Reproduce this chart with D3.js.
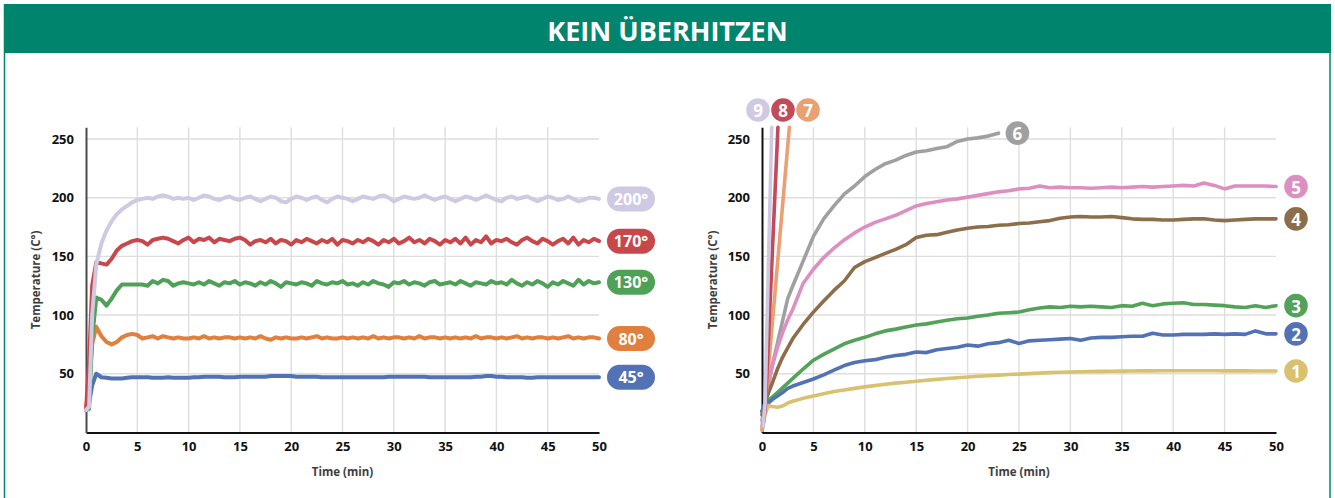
<!DOCTYPE html>
<html>
<head>
<meta charset="utf-8">
<script src="https://cdn.jsdelivr.net/npm/d3@7"></script>
<style>
  body { margin: 0; background: #fff; }
  svg { display: block; }
  text { font-family: "Open Sans", "Noto Sans", sans-serif; }
</style>
</head>
<body>
<svg id="chart" width="1335" height="498"></svg>
<script>
// ---------- data ----------
const title = "KEIN ÜBERHITZEN";
const xTicks = [0, 5, 10, 15, 20, 25, 30, 35, 40, 45, 50];
const yTicks = [50, 100, 150, 200, 250];

// Left panel: regulated plate temperatures (minutes)
const leftTime = [
  0, 0.3, 0.6,
  1, 1.5, 2, 2.5, 3, 3.5, 4, 4.5, 5, 5.5,
  6, 6.5, 7, 7.5, 8, 8.5, 9, 9.5, 10, 10.5,
  11, 11.5, 12, 12.5, 13, 13.5, 14, 14.5, 15, 15.5,
  16, 16.5, 17, 17.5, 18, 18.5, 19, 19.5, 20, 20.5,
  21, 21.5, 22, 22.5, 23, 23.5, 24, 24.5, 25, 25.5,
  26, 26.5, 27, 27.5, 28, 28.5, 29, 29.5, 30, 30.5,
  31, 31.5, 32, 32.5, 33, 33.5, 34, 34.5, 35, 35.5,
  36, 36.5, 37, 37.5, 38, 38.5, 39, 39.5, 40, 40.5,
  41, 41.5, 42, 42.5, 43, 43.5, 44, 44.5, 45, 45.5,
  46, 46.5, 47, 47.5, 48, 48.5, 49, 49.5, 50
];
const level45 = [
  19, 25, 40,
  50, 47, 46.5, 46, 46, 46, 46.5, 47, 47, 47,
  47, 46.5, 46.5, 46.5, 47, 46.5, 46.5, 46.5, 46.5, 47,
  47, 47.5, 47.5, 47.5, 47.5, 47, 47, 47, 47.5, 47.5,
  47.5, 47.5, 47.5, 47.5, 48, 48, 48, 48, 48, 47.5,
  47.5, 47.5, 47.5, 47.5, 47, 47, 47, 47, 47, 47,
  47, 47, 47, 47, 47, 47, 47, 47.5, 47.5, 47.5,
  47.5, 47.5, 47.5, 47.5, 47.5, 47, 47, 47, 47, 47,
  47, 47, 47, 47, 47.5, 47.5, 48, 48, 47.5, 47.5,
  47, 47, 47, 47, 46.5, 46.5, 47, 47, 47, 47,
  47, 47, 47, 47, 47, 47, 47, 47, 47
];
const level80 = [
  19, 40, 75,
  90, 82, 77, 75, 77, 81, 83, 84, 83, 80,
  81, 82, 80, 82, 81, 80, 81, 80, 80, 81,
  80, 82, 80, 81, 80, 81, 81, 80, 81, 80,
  81, 80, 82, 80, 79, 81, 80, 81, 80, 80,
  81, 80, 81, 82, 80, 81, 80, 80, 81, 80,
  81, 80, 81, 80, 82, 80, 81, 80, 81, 81,
  80, 81, 80, 82, 80, 81, 81, 80, 81, 80,
  81, 80, 81, 80, 82, 80, 81, 81, 80, 81,
  80, 81, 82, 80, 81, 80, 81, 81, 80, 81,
  80, 81, 82, 80, 81, 80, 81, 81, 80
];
const level130 = [
  19, 20, 80,
  115, 113, 108, 114, 121, 126, 126, 126, 126, 126,
  125, 129, 127, 130, 129, 125, 127, 128, 127, 126,
  128, 126, 129, 127, 125, 128, 127, 129, 126, 128,
  127, 125, 128, 126, 129, 127, 124, 128, 127, 126,
  128, 127, 125, 129, 127, 126, 128, 127, 129, 126,
  127, 125, 128, 126, 129, 127, 126, 124, 128, 127,
  129, 126, 128, 127, 125, 128, 129, 126, 127, 128,
  126, 129, 127, 125, 128, 127, 126, 129, 127, 128,
  126, 130, 127, 125, 128, 126, 129, 127, 124, 128,
  126, 129, 127, 125, 130, 126, 129, 127, 128
];
const level170 = [
  19, 60, 125,
  145, 144, 143, 148, 155, 159, 161, 163, 164, 163,
  160, 164, 165, 166, 165, 163, 161, 164, 166, 162,
  165, 164, 166, 162, 165, 164, 163, 165, 166, 164,
  160, 163, 164, 162, 165, 161, 164, 163, 160, 164,
  162, 165, 163, 161, 164, 162, 165, 160, 164, 163,
  161, 164, 162, 165, 163, 160, 164, 162, 165, 161,
  163, 166, 162, 164, 161, 165, 163, 160, 164, 162,
  165, 161, 166, 160, 164, 162, 167, 161, 164, 163,
  165, 162, 160, 164, 166, 163, 161, 165, 163, 160,
  163, 165, 161, 166, 160, 164, 162, 165, 163
];
const level200 = [
  19, 22, 100,
  143, 161, 172, 180, 186, 190, 193, 196, 198, 199,
  200, 199, 201, 202, 201, 199, 200, 199, 200, 198,
  200, 202, 201, 199, 198, 200, 201, 199, 198, 200,
  201, 199, 197, 199, 201, 200, 197, 196, 199, 201,
  200, 198, 200, 201, 198, 196, 199, 201, 200, 199,
  197, 199, 201, 200, 199, 201, 202, 200, 197, 199,
  201, 200, 199, 200, 202, 200, 198, 200, 201, 199,
  197, 199, 201, 200, 198, 200, 202, 200, 198, 197,
  200, 201, 199, 200, 201, 199, 197, 199, 201, 200,
  198, 199, 201, 199, 197, 198, 200, 200, 199
];
const leftLabels = ["45°", "80°", "130°", "170°", "200°"];

// Right panel: unregulated burners (minutes)
const rightTime = [
  0, 0.3, 0.6, 1, 1.5, 2, 2.5,
  3, 4, 5, 6, 7, 8, 9, 10, 11, 12,
  13, 14, 15, 16, 17, 18, 19, 20, 21, 22,
  23, 24, 25, 26, 27, 28, 29, 30, 31, 32,
  33, 34, 35, 36, 37, 38, 39, 40, 41, 42,
  43, 44, 45, 46, 47, 48, 49, 50
];
const burner1 = [
  2, 15, 23, 22, 21.5, 22.5, 25,
  26.5, 29, 31, 33, 34.8, 36.2, 37.5, 38.8, 40, 41,
  42, 42.8, 43.6, 44.4, 45.2, 45.9, 46.6, 47.2, 47.8, 48.3,
  48.8, 49.3, 49.7, 50.1, 50.5, 50.9, 51.2, 51.5, 51.7, 51.9,
  52, 52.1, 52.2, 52.3, 52.4, 52.4, 52.5, 52.5, 52.5, 52.5,
  52.5, 52.5, 52.4, 52.4, 52.4, 52.3, 52.3, 52.3
];
const burner2 = [
  18, 24, 25, 28, 31, 34, 37.5,
  39.5, 42.5, 45.5, 49, 53, 57, 59.5, 61, 62, 64,
  65.5, 66.5, 68.5, 68, 70.5, 71.5, 72.5, 74.5, 73.5, 75.5,
  76.5, 78.5, 75.8, 78, 78.5, 79, 79.5, 80, 78.5, 80.5,
  81, 81, 81.5, 82, 82, 84.5, 83, 83, 83.5, 83.5,
  83.5, 84, 83.5, 84, 83.5, 86.5, 84, 84
];
const burner3 = [
  18, 25, 27, 30, 34, 38, 42,
  46, 54, 61.5, 66.5, 71, 75.5, 78.5, 81, 84, 86.5,
  88, 89.8, 91.5, 92.5, 94, 95.5, 96.8, 97.5, 99, 100,
  101.5, 102, 102.6, 104.5, 106, 107, 106.5, 107.5, 107, 107.5,
  107, 106.5, 108, 107.5, 110, 108, 109.5, 110, 110.5, 109,
  109, 108.5, 108, 107, 106.5, 108, 106.5, 108
];
const burner4 = [
  15, 25, 33, 42, 54, 64, 72,
  80, 92, 102.5, 112, 121, 129, 140.5, 145.5, 149, 152.5,
  156, 160, 166, 168, 168.5, 170.5, 172.5, 174, 175, 175.5,
  176.5, 177, 178, 178.5, 179.5, 180.5, 182.5, 183.5, 184, 183.5,
  183.5, 184, 183, 182, 181.5, 181.5, 181, 181, 181.5, 182,
  182, 181, 180.5, 181, 181.5, 182, 182, 182
];
const burner5 = [
  5, 22, 40, 57, 72, 85, 96,
  105, 127, 139, 149, 157, 164, 170, 175, 179, 182,
  185, 189, 193, 195, 196.5, 198, 199, 200.5, 202, 203.5,
  205, 206, 207.5, 208, 210, 208.5, 209, 208.5, 208.5, 208,
  208.5, 209, 208.5, 209, 209.5, 209, 209.5, 210, 210.5, 210,
  212.5, 210.5, 207.5, 210, 210, 210, 210, 209.5
];
const burner6 = [
  10, 25, 40, 57, 76, 95, 114,
  125, 146, 167, 182, 193, 203, 210, 218, 224, 229,
  232, 236, 239, 240, 242, 243.5, 248, 250, 251, 252.5,
  255
];
const burner7Time = [0, 0.3, 2.66];
const burner7 = [2, 22, 260];
const burner8Time = [0.1, 0.35, 1.55];
const burner8 = [5, 25, 260];
const burner9Time = [0.1, 0.3, 0.95];
const burner9 = [5, 25, 260];
const rightLabels = ["1", "2", "3", "4", "5", "6", "7", "8", "9"];

// ---------- styles ----------
const leftColors = ["#5272b5", "#e07f3e", "#50a158", "#c8474b", "#d0c9e3"];
const rightColors = ["#d9c170", "#5272b5", "#52a25a", "#8e6d4b", "#de8fc1",
                     "#a0a0a0", "#e9a072", "#c24b5a", "#d1c9e2"];

// ---------- layout ----------
const svg = d3.select("#chart");
const W = 1335, H = 498;
const green = "#01846d";

svg.append("rect").attr("x", 4).attr("y", 4).attr("width", W - 8).attr("height", 49).attr("fill", green);
svg.append("line").attr("x1", 4.5).attr("x2", 4.5).attr("y1", 4).attr("y2", H).attr("stroke", green).attr("stroke-width", 1.5);
svg.append("line").attr("x1", W - 5).attr("x2", W - 5).attr("y1", 4).attr("y2", H).attr("stroke", green).attr("stroke-width", 1.5);
svg.append("text").attr("x", W / 2).attr("y", 30).attr("text-anchor", "middle")
  .attr("dominant-baseline", "central")
  .attr("fill", "#fff").attr("font-size", 27).attr("font-weight", 700).text(title);

const y = d3.scaleLinear().domain([0, 260]).range([432.4, 127.3]);

function panel(x0, x1, axisColor, labelX) {
  const x = d3.scaleLinear().domain([0, 50]).range([x0, x1]);
  const g = svg.append("g");
  // grid
  g.selectAll("line.hg").data(yTicks).join("line")
    .attr("x1", x(0)).attr("x2", x(50)).attr("y1", d => y(d)).attr("y2", d => y(d))
    .attr("stroke", "#dedede").attr("stroke-width", 1.4);
  g.selectAll("line.vg").data(xTicks.filter(d => d > 0 && d < 50)).join("line")
    .attr("x1", d => x(d)).attr("x2", d => x(d)).attr("y1", y(0)).attr("y2", y(260))
    .attr("stroke", "#dedede").attr("stroke-width", 1.4);
  // axes
  const ax = g.append("g").attr("transform", `translate(0,${y(0)})`)
    .call(d3.axisBottom(x).tickValues(xTicks).tickSize(0).tickSizeOuter(0).tickPadding(9));
  ax.select(".domain").attr("stroke", "#111").attr("stroke-width", 2);
  const ay = g.append("g").attr("transform", `translate(${x(0)},0)`)
    .call(d3.axisLeft(y).tickValues(yTicks).tickSize(0).tickSizeOuter(0).tickPadding(12));
  ay.select(".domain").attr("stroke", axisColor).attr("stroke-width", 2);
  [ax, ay].forEach(a => a.selectAll("text")
    .attr("font-size", 13).attr("font-weight", 700).attr("fill", "#111")
    .attr("font-family", "'Open Sans', sans-serif"));
  g.append("text").attr("x", (x(0) + x(50)) / 2).attr("y", 476).attr("text-anchor", "middle")
    .attr("font-size", 11.5).attr("font-weight", 700).attr("fill", "#3d3d3d").text("Time (min)");
  g.append("text").attr("transform", `translate(${labelX},280) rotate(-90)`)
    .attr("text-anchor", "middle").attr("dominant-baseline", "central")
    .attr("font-size", 11.5).attr("font-weight", 700).attr("fill", "#3d3d3d").text("Temperature (C°)");
  return { x, g };
}

function drawLine(g, x, times, values, color, width) {
  const pts = times.map((t, i) => [t, values[i]]).filter(p => p[1] != null);
  g.append("path").datum(pts)
    .attr("d", d3.line().x(d => x(d[0])).y(d => y(d[1])))
    .attr("fill", "none").attr("stroke", color).attr("stroke-width", width)
    .attr("stroke-linejoin", "round").attr("stroke-linecap", "round");
  return pts[pts.length - 1];
}

// ---- left panel ----
const L = panel(86, 599, "#4a4a4a", 35);
const leftSeries = [level45, level80, level130, level170, level200];
leftSeries.forEach((vals, i) => {
  const last = drawLine(L.g, L.x, leftTime, vals, leftColors[i], 4);
  const cx = L.x(50) + 32, cy = y(last[1]);
  L.g.append("rect").attr("x", cx - 24).attr("y", cy - 12.5).attr("width", 48).attr("height", 25)
    .attr("rx", 12.5).attr("fill", leftColors[i]);
  L.g.append("text").attr("x", cx).attr("y", cy).attr("text-anchor", "middle")
    .attr("dominant-baseline", "central").attr("fill", "#fff")
    .attr("font-size", 16).attr("font-weight", 700).text(leftLabels[i]);
});

// ---- right panel ----
const R = panel(762, 1276, "#111", 712);
const badge = (cx, cy, i) => {
  R.g.append("circle").attr("cx", cx).attr("cy", cy).attr("r", 11.8).attr("fill", rightColors[i]);
  R.g.append("text").attr("x", cx).attr("y", cy + 0.5).attr("text-anchor", "middle")
    .attr("dominant-baseline", "central").attr("fill", "#fff")
    .attr("font-size", 17).attr("font-weight", 700).text(rightLabels[i]);
};
const slow = [burner1, burner2, burner3, burner4, burner5, burner6];
const ends = [];
[5, 4, 3, 2, 1, 0].forEach(i => {
  ends[i] = drawLine(R.g, R.x, rightTime, slow[i], rightColors[i], 3.6);
});
const fast = [[burner7Time, burner7], [burner8Time, burner8], [burner9Time, burner9]];
fast.forEach(([t, v], k) => drawLine(R.g, R.x, t, v, rightColors[6 + k], 3.6));

for (let i = 0; i < 5; i++) badge(R.x(50) + 20, y(ends[i][1]), i);
badge(R.x(ends[5][0]) + 19, y(ends[5][1]), 5);
// fast burners run off the top of the scale; their badges sit above the axis
[8, 7, 6].forEach((i, k) => badge(758 + k * 25, 110, i));
</script>
</body>
</html>
